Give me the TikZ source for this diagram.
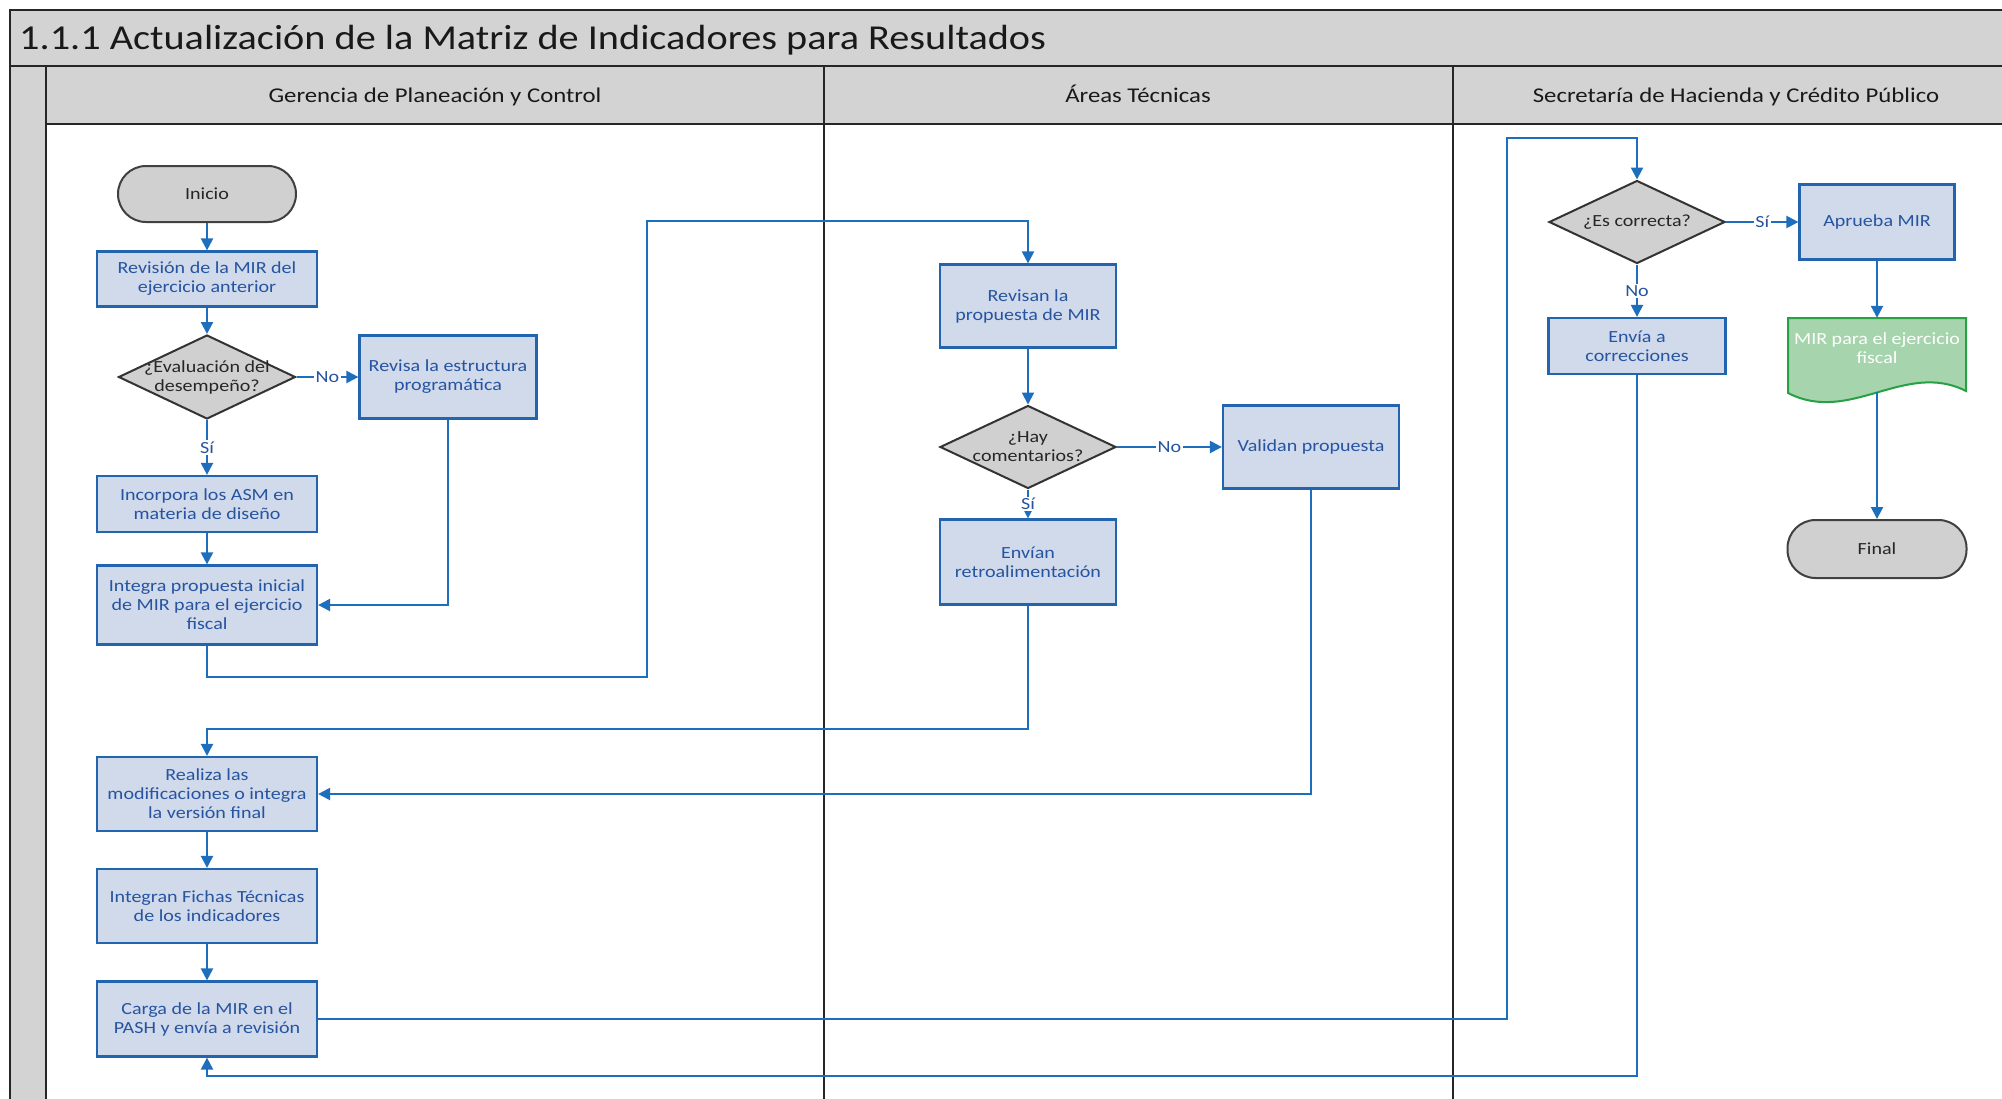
\documentclass[tikz,border=0pt]{standalone}
\usepackage{fontspec}
\setmainfont{Carlito}
\newfontfamily\wide[FakeStretch=1.18]{Carlito}
\newfontfamily\titlefont[FakeStretch=1.15]{Carlito}
\usetikzlibrary{shapes.geometric,arrows.meta,calc}
\definecolor{hdr}{RGB}{211,211,211}
\definecolor{boxfill}{RGB}{208,218,235}
\definecolor{boxline}{RGB}{35,100,175}
\definecolor{boxtxt}{RGB}{38,84,160}
\definecolor{conn}{RGB}{30,110,190}
\definecolor{decfill}{RGB}{208,208,208}
\definecolor{docfill}{RGB}{166,212,172}
\definecolor{docline}{RGB}{40,160,70}
\tikzset{
  frame/.style={draw=black!85, line width=2pt},
  nfont/.style={font=\wide\fontsize{17}{19}\selectfont},
  proc/.style={rectangle, draw=boxline, fill=boxfill, line width=2.2pt, text=boxtxt, align=center, nfont, inner sep=2pt, minimum width=220pt},
  procn/.style={proc, minimum width=176pt},
  dec/.style={diamond, draw=black!80, fill=decfill, line width=2pt, inner sep=0pt, minimum width=177pt, minimum height=84pt},
  dectxt/.style={text=black!85, align=center, nfont, inner sep=0pt},
  term/.style={rectangle, rounded corners=28pt, draw=black!75, fill=decfill, line width=2pt, minimum width=178pt, minimum height=56pt, nfont, text=black!85},
  arr/.style={draw=conn, line width=2.2pt, -{Triangle[length=12pt,width=12pt]}},
  lbl/.style={fill=white, inner sep=1.5pt, text=boxtxt, nfont},
  hdrtxt/.style={font=\wide\fontsize{21}{24}\selectfont, text=black!90, text height=15pt, text depth=5pt, inner sep=0pt}
}
\begin{document}
\begin{tikzpicture}[x=1pt,y=-1pt]
\useasboundingbox (0,0) rectangle (2002,1098);
\clip (0,0) rectangle (2002,1098);
% frame
\fill[white] (0,0) rectangle (2002,1098);
\fill[hdr] (10,10) rectangle (2030,66);
\fill[hdr] (10,66) rectangle (46,1110);
\fill[hdr] (46,66) rectangle (2030,124);
\draw[frame] (10,10) rectangle (2030,66);
\draw[frame] (10,66) -- (10,1110);
\draw[frame] (46,66) -- (46,1110);
\draw[frame] (46,124) -- (2030,124);
\draw[frame] (824,66) -- (824,1110);
\draw[frame] (1453,66) -- (1453,1110);
\node[anchor=west, font=\titlefont\fontsize{35}{38}\selectfont, text=black!90, inner sep=0pt] (title) at (19,40) {1.1.1 Actualización de la Matriz de Indicadores para Resultados};
\node[hdrtxt] (h1) at (435,97) {Gerencia de Planeación y Control};
\node[hdrtxt] (h2) at (1138,97) {Áreas Técnicas};
\node[hdrtxt] (h3) at (1736,97) {Secretaría de Hacienda y Crédito Público};

% lane 1
\node[term] (inicio) at (207,194) {Inicio};
\node[proc, minimum height=55pt] (rev) at (207,279) {Revisión de la MIR del\\ejercicio anterior};
\node[dec] (eval) at (207,377) {};
\node[dectxt] (evalt) at (207,377) {¿Evaluación del\\desempeño?};
\node[procn, minimum height=83pt, minimum width=177pt] (estr) at (448,377) {Revisa la estructura\\programática};
\node[proc, minimum height=56pt] (inc) at (207,504) {Incorpora los ASM en\\materia de diseño};
\node[proc, minimum height=79pt] (integ) at (207,605) {Integra propuesta inicial\\de MIR para el ejercicio\\fiscal};
\node[proc, minimum height=74pt] (realiza) at (207,794) {Realiza las\\modificaciones o integra\\la versión final};
\node[proc, minimum height=74pt] (fichas) at (207,906) {Integran Fichas Técnicas\\de los indicadores};
\node[proc, minimum height=75pt] (carga) at (207,1019) {Carga de la MIR en el\\PASH y envía a revisión};

% lane 2
\node[procn, minimum height=83pt] (revisan) at (1028,306) {Revisan la\\propuesta de MIR};
\node[dec, minimum width=176pt, minimum height=83pt] (hay) at (1028,447) {};
\node[dectxt] (hayt) at (1028,447) {¿Hay\\comentarios?};
\node[procn, minimum height=83pt] (validan) at (1311,447) {Validan propuesta};
\node[procn, minimum height=85pt] (envian) at (1028,562) {Envían\\retroalimentación};

% lane 3
\node[dec, minimum width=176pt, minimum height=83pt] (escorr) at (1637,222) {};
\node[dectxt] (escorrt) at (1637,222) {¿Es correcta?};
\node[rectangle, draw=boxline, fill=boxfill, line width=2.2pt, text=boxtxt, nfont, minimum width=155pt, minimum height=75pt] (aprueba) at (1877,222) {Aprueba MIR};
\node[procn, minimum width=177pt, minimum height=56pt] (envia) at (1637,346) {Envía a\\correcciones};
\node[rectangle, minimum width=179pt, minimum height=74pt, inner sep=0pt] (mir) at (1877,355) {};
\filldraw[fill=docfill, draw=docline, line width=2pt] (1788,318) -- (1966,318) -- (1966,391) .. controls (1905,360) and (1850,425) .. (1788,393) -- cycle;
\node[text=white, align=center, nfont, inner sep=0pt] (mirt) at (1877,348) {MIR para el ejercicio\\fiscal};
\coordinate (mirb) at (1877,392);
\node[term, minimum width=179pt, minimum height=58pt] (final) at (1877,549) {Final};

% connectors
\draw[arr] (inicio.south) -- (rev.north);
\draw[arr] (rev.south) -- (eval.north);
\draw[arr] (eval.east) -- node[lbl] (l1) {No} (estr.west);
\draw[arr] (eval.south) -- node[lbl] (l2) {Sí} (inc.north);
\draw[arr] (estr.south) |- (integ.east);
\draw[arr] (inc.south) -- (integ.north);
\draw[arr] (integ.south) |- (647,677) -- (647,221) -| (revisan.north);
\draw[arr] (revisan.south) -- (hay.north);
\draw[arr] (hay.east) -- node[lbl] (l3) {No} (validan.west);
\draw[arr] (hay.south) -- node[lbl] (l4) {Sí} (envian.north);
\draw[arr] (envian.south) |- (207,729) -- (realiza.north);
\draw[arr] (validan.south) |- (realiza.east);
\draw[arr] (realiza.south) -- (fichas.north);
\draw[arr] (fichas.south) -- (carga.north);
\draw[arr] (carga.east) -| (1507,138) -| (escorr.north);
\draw[arr] (escorr.east) -- node[lbl] (l5) {Sí} (aprueba.west);
\draw[arr] (escorr.south) -- node[lbl] (l6) {No} (envia.north);
\draw[arr] (envia.south) |- (207,1076) -- (carga.south);
\draw[arr] (aprueba.south) -- (mir.north);
\draw[arr] (mirb) -- (final.north);
\end{tikzpicture}
\end{document}
